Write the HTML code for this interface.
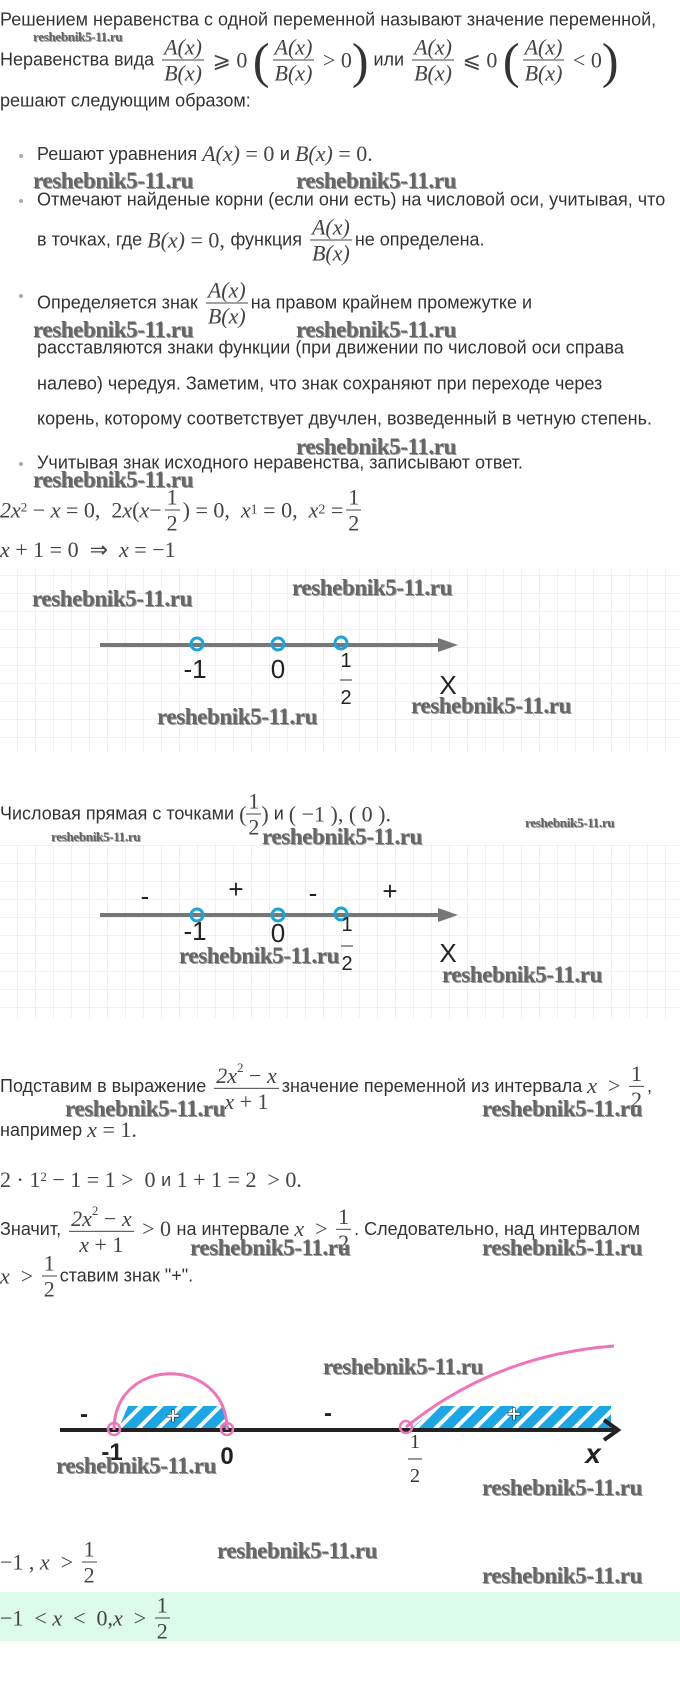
<!DOCTYPE html>
<html><head><meta charset="utf-8"><style>
body{margin:0;width:680px;height:1706px;position:relative;background:#fff;font-family:"Liberation Sans",sans-serif;color:#333;overflow:hidden}
.r{position:absolute;white-space:nowrap;display:flex;align-items:center;transform:translateY(-50%);font-size:18px;letter-spacing:0}
.m{font-family:"Liberation Serif",serif;font-size:22px;color:#444;letter-spacing:0}
.i{font-style:italic}
.fr{display:inline-flex;flex-direction:column;align-items:center;margin:0 3px;font-family:"Liberation Serif",serif;font-size:22px;line-height:25px;color:#444;letter-spacing:0}
.fr .n{border-bottom:1px solid #444;padding:0 2px}
.w{position:absolute;transform:translateY(-50%);font-family:"Liberation Serif",serif;font-weight:bold;font-size:23px;color:#666;text-shadow:1px 1px 0 #999;white-space:nowrap;letter-spacing:-0.4px}
.ws{font-size:13px;letter-spacing:-0.3px}
.dot{position:absolute;width:4px;height:4px;background:#aaa;border-radius:50%;transform:translateY(-50%)}
.big{font-size:50px;font-family:"Liberation Serif",serif;color:#333;line-height:44px}
sup{font-size:13px;position:relative;top:-3px}
</style></head><body>

<div class="r" style="left:0;top:20px">Решением неравенства с одной переменной называют значение переменной,</div>
<div class="r" style="left:0;top:60px">Неравенства вида&nbsp;<span class="fr"><span class="n i">A(x)</span><span class="i">B(x)</span></span><span class="m">&nbsp;⩾ 0&nbsp;</span><span class="big">(</span><span class="fr"><span class="n i">A(x)</span><span class="i">B(x)</span></span><span class="m">&nbsp;&gt; 0</span><span class="big">)</span>&nbsp;или&nbsp;<span class="fr"><span class="n i">A(x)</span><span class="i">B(x)</span></span><span class="m">&nbsp;⩽ 0&nbsp;</span><span class="big">(</span><span class="fr"><span class="n i">A(x)</span><span class="i">B(x)</span></span><span class="m">&nbsp;&lt; 0</span><span class="big">)</span></div>
<div class="w ws" style="left:33px;top:37px">reshebnik5-11.ru</div>
<div class="r" style="left:0;top:101px">решают следующим образом:</div>

<div class="dot" style="left:19px;top:156px"></div>
<div class="r" style="left:37px;top:154px">Решают уравнения&nbsp;<span class="m i">A(x)</span><span class="m">&nbsp;= 0&nbsp;</span>и&nbsp;<span class="m i">B(x)</span><span class="m">&nbsp;= 0.</span></div>
<div class="w" style="left:33px;top:181px">reshebnik5-11.ru</div>
<div class="w" style="left:296px;top:181px">reshebnik5-11.ru</div>
<div class="dot" style="left:19px;top:201px"></div>
<div class="r" style="left:37px;top:200px">Отмечают найденые корни (если они есть) на числовой оси, учитывая, что</div>
<div class="r" style="left:37px;top:240px">в точках, где&nbsp;<span class="m i">B(x)</span><span class="m">&nbsp;= 0,&nbsp;</span>функция&nbsp;<span class="fr"><span class="n i">A(x)</span><span class="i">B(x)</span></span>не определена.</div>
<div class="dot" style="left:19px;top:296px"></div>
<div class="r" style="left:37px;top:303px">Определяется знак&nbsp;<span class="fr"><span class="n i">A(x)</span><span class="i">B(x)</span></span>на правом крайнем промежутке и</div>
<div class="w" style="left:33px;top:330px">reshebnik5-11.ru</div>
<div class="w" style="left:296px;top:330px">reshebnik5-11.ru</div>
<div class="r" style="left:37px;top:348px">расставляются знаки функции (при движении по числовой оси справа</div>
<div class="r" style="left:37px;top:384px">налево) чередуя. Заметим, что знак сохраняют при переходе через</div>
<div class="r" style="left:37px;top:419px">корень, которому соответствует двучлен, возведенный в четную степень.</div>
<div class="w" style="left:296px;top:447px">reshebnik5-11.ru</div>
<div class="dot" style="left:19px;top:464px"></div>
<div class="r" style="left:37px;top:463px">Учитывая знак исходного неравенства, записывают ответ.</div>
<div class="w" style="left:33px;top:480px">reshebnik5-11.ru</div>

<div class="r m" style="left:0;top:510px"><span class="i">2x</span><sup>2</sup>&nbsp;− <span class="i">&nbsp;x</span>&nbsp;= 0,&nbsp;&nbsp;2<span class="i">x</span>(<span class="i">x</span> − <span class="fr"><span class="n">1</span><span>2</span></span>) = 0,&nbsp;&nbsp;<span class="i">x</span><sub style="font-size:14px">1</sub>&nbsp;= 0,&nbsp;&nbsp;<span class="i">x</span><sub style="font-size:14px">2</sub>&nbsp;= <span class="fr"><span class="n">1</span><span>2</span></span></div>
<div class="r m" style="left:0;top:550px"><span class="i">x</span>&nbsp;+ 1 = 0&nbsp;&nbsp;⇒&nbsp;&nbsp;<span class="i">x</span>&nbsp;= −1</div>

<svg width="680" height="1706" style="position:absolute;left:0;top:0" xmlns="http://www.w3.org/2000/svg">
<defs>
<pattern id="g" width="18" height="18" patternUnits="userSpaceOnUse"><path d="M18 0V18H0" fill="none" stroke="#e3e3e3" stroke-width="1"/></pattern>
<pattern id="h" width="14" height="14" patternUnits="userSpaceOnUse" patternTransform="rotate(45)"><rect width="14" height="14" fill="#1ba6e6"/><rect width="4" height="14" fill="#fff"/></pattern>
</defs>
<rect x="0" y="569" width="680" height="184" fill="url(#g)"/>
<rect x="0" y="845" width="680" height="173" fill="url(#g)"/>
<g stroke="#777" stroke-width="4"><line x1="100" y1="645" x2="445" y2="645"/><line x1="100" y1="915" x2="445" y2="915"/></g>
<polygon points="438,638 458,645 438,652" fill="#777"/>
<polygon points="438,908 458,915 438,922" fill="#777"/>
<g fill="none" stroke="#1aa3dc" stroke-width="3"><circle cx="197" cy="644" r="6"/><circle cx="278" cy="644" r="6"/><circle cx="341" cy="643" r="6"/><circle cx="197" cy="915" r="6"/><circle cx="278" cy="915" r="6"/><circle cx="341" cy="914" r="6"/></g>
<g font-family="Liberation Sans" fill="#222" font-size="26" text-anchor="middle">
<text x="195" y="678">-1</text><text x="278" y="678">0</text><text x="448" y="694">X</text>
<text x="346" y="667" font-size="20">1</text><line x1="340" y1="680" x2="352" y2="680" stroke="#333"/><text x="346" y="704" font-size="20">2</text>
<text x="195" y="940">-1</text><text x="278" y="942">0</text><text x="448" y="962">X</text>
<text x="347" y="931" font-size="20">1</text><line x1="341" y1="946" x2="353" y2="946" stroke="#333"/><text x="347" y="970" font-size="20">2</text>
<text x="145" y="905">-</text><text x="236" y="898">+</text><text x="313" y="902">-</text><text x="390" y="900">+</text>
</g>
<polygon points="118,1430 128,1406 222,1406 230,1430" fill="url(#h)"/>
<polygon points="410,1430 436,1406 611,1406 611,1430" fill="url(#h)"/>
<line x1="60" y1="1430" x2="614" y2="1430" stroke="#222" stroke-width="4"/>
<polyline points="604,1420 618,1430 604,1440" fill="none" stroke="#222" stroke-width="4"/>
<path d="M114 1430 C114 1355 227 1355 227 1430" fill="none" stroke="#ef74b8" stroke-width="3"/>
<path d="M406 1427 Q495 1355 614 1346" fill="none" stroke="#ef74b8" stroke-width="3"/>
<g fill="none" stroke="#ef74b8" stroke-width="2.5"><circle cx="114" cy="1429" r="6"/><circle cx="227" cy="1429" r="6"/><circle cx="406" cy="1427" r="6"/></g>
<g font-family="Liberation Sans" font-weight="bold" fill="#222" font-size="24" text-anchor="middle">
<text x="84" y="1422">-</text><text x="173" y="1424" fill="#fff" stroke="#222" stroke-width="0.6">+</text><text x="328" y="1421">-</text><text x="514" y="1422" fill="#fff" stroke="#222" stroke-width="0.6">+</text>
<text x="112" y="1460">-1</text><text x="227" y="1464">0</text><text x="593" y="1463" font-style="italic" font-size="28">x</text>
</g>
<g font-family="Liberation Serif" fill="#333" font-size="20" text-anchor="middle"><text x="415" y="1448">1</text><line x1="408" y1="1459" x2="422" y2="1459" stroke="#333"/><text x="415" y="1482">2</text></g>
</svg>

<div class="w" style="left:32px;top:599px">reshebnik5-11.ru</div>
<div class="w" style="left:292px;top:588px">reshebnik5-11.ru</div>
<div class="w" style="left:157px;top:717px">reshebnik5-11.ru</div>
<div class="w" style="left:411px;top:706px">reshebnik5-11.ru</div>

<div class="r" style="left:0;top:814px">Числовая прямая с точками&nbsp;<span class="m">(</span><span class="fr" style="margin:0"><span class="n">1</span><span>2</span></span><span class="m">)</span>&nbsp;и&nbsp;<span class="m">( −1 ), ( 0 ).</span></div>
<div class="w ws" style="left:525px;top:823px">reshebnik5-11.ru</div>
<div class="w ws" style="left:51px;top:837px">reshebnik5-11.ru</div>
<div class="w" style="left:262px;top:837px">reshebnik5-11.ru</div>
<div class="w" style="left:179px;top:956px">reshebnik5-11.ru</div>
<div class="w" style="left:442px;top:975px">reshebnik5-11.ru</div>

<div class="r" style="left:0;top:1086px">Подставим в выражение&nbsp;<span class="fr"><span class="n"><span class="i">2x</span><sup>2</sup> − <span class="i">x</span></span><span><span class="i">x</span> + 1</span></span>значение переменной из интервала&nbsp;<span class="m i">x</span><span class="m">&nbsp;&nbsp;&gt;&nbsp;</span><span class="fr"><span class="n">1</span><span>2</span></span>,</div>
<div class="w" style="left:65px;top:1109px">reshebnik5-11.ru</div>
<div class="w" style="left:482px;top:1109px">reshebnik5-11.ru</div>
<div class="r" style="left:0;top:1130px">например&nbsp;<span class="m i">x</span><span class="m">&nbsp;= 1.</span></div>
<div class="r m" style="left:0;top:1180px">2 · 1<sup>2</sup>&nbsp;− 1 = 1 &gt;&nbsp; 0&nbsp;<span style="font-family:'Liberation Sans';font-size:18px">и</span>&nbsp;1 + 1 = 2 &nbsp;&gt; 0.</div>
<div class="r" style="left:0;top:1229px">Значит,&nbsp;<span class="fr"><span class="n"><span class="i">2x</span><sup>2</sup> − <span class="i">x</span></span><span><span class="i">x</span> + 1</span></span><span class="m">&nbsp;&gt; 0&nbsp;</span>на интервале&nbsp;<span class="m i">x</span><span class="m">&nbsp;&nbsp;&gt;&nbsp;</span><span class="fr"><span class="n">1</span><span>2</span></span>. Следовательно, над интервалом</div>
<div class="w" style="left:190px;top:1248px">reshebnik5-11.ru</div>
<div class="w" style="left:482px;top:1248px">reshebnik5-11.ru</div>
<div class="r" style="left:0;top:1276px"><span class="m i">x</span><span class="m">&nbsp;&nbsp;&gt;&nbsp;</span><span class="fr"><span class="n">1</span><span>2</span></span>ставим знак "+".</div>

<div class="w" style="left:323px;top:1367px">reshebnik5-11.ru</div>
<div class="w" style="left:56px;top:1466px">reshebnik5-11.ru</div>
<div class="w" style="left:482px;top:1488px">reshebnik5-11.ru</div>

<div class="r m" style="left:0;top:1562px">−1 , <span class="i">&nbsp;x</span>&nbsp;&nbsp;&gt;&nbsp;<span class="fr"><span class="n">1</span><span>2</span></span></div>
<div class="w" style="left:217px;top:1551px">reshebnik5-11.ru</div>
<div class="w" style="left:482px;top:1576px">reshebnik5-11.ru</div>
<div style="position:absolute;left:0;top:1592px;width:680px;height:49px;background:#dcfbe9;overflow:hidden">
<div class="r m" style="left:0;top:26px">−1 &nbsp;&lt;&nbsp; <span class="i">x</span>&nbsp; &lt;&nbsp; 0, <span class="i">x</span>&nbsp; &gt;&nbsp;<span class="fr"><span class="n">1</span><span>2</span></span></div>
</div>
</body></html>
